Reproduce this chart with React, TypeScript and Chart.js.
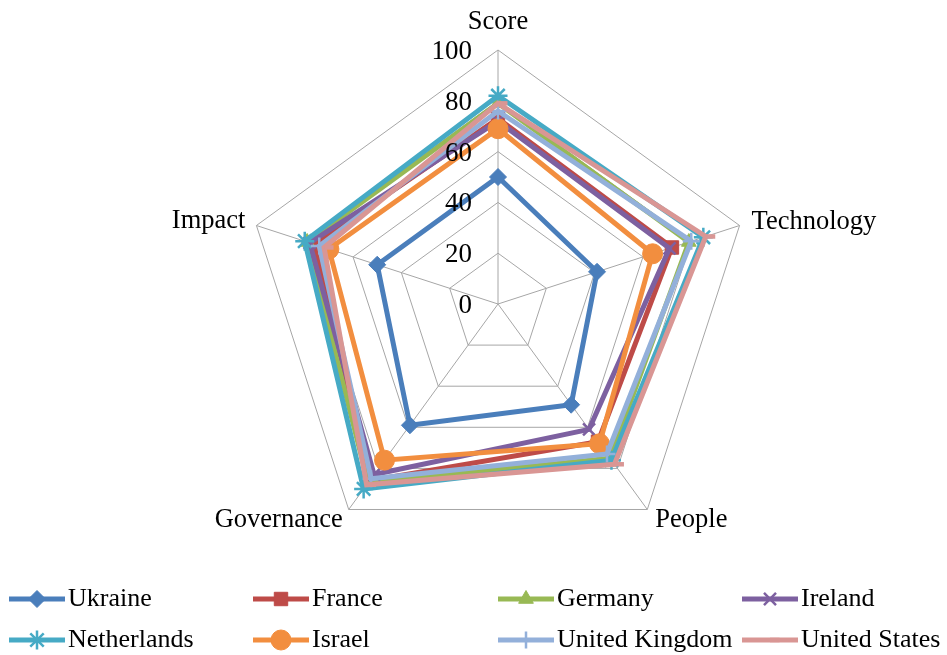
import React, { useEffect, useRef } from "react";
import { Chart, registerables } from "chart.js";
import { drawPoint } from "chart.js/helpers";

Chart.register(...registerables);

const axisLabels = ["Score", "Technology", "People", "Governance", "Impact"];
const tickValues = [0, 20, 40, 60, 80, 100];

const seriesNames = [
  "Ukraine",
  "France",
  "Germany",
  "Ireland",
  "Netherlands",
  "Israel",
  "United Kingdom",
  "United States",
];

const ukraine = [50, 41, 49, 59, 50];
const france = [73, 72, 67, 86, 76];
const germany = [79, 79, 75, 87, 79];
const ireland = [72, 71, 61, 83, 78];
const netherlands = [82, 85, 76, 90, 80];
const israel = [69, 64, 68, 76, 70];
const unitedKingdom = [76, 80, 73, 85, 74];
const unitedStates = [79, 86, 78, 88, 72];

const seriesValues = [
  ukraine,
  france,
  germany,
  ireland,
  netherlands,
  israel,
  unitedKingdom,
  unitedStates,
];

const seriesColors = [
  "#4A7EBB",
  "#BE4B48",
  "#98B954",
  "#7D60A0",
  "#46AAC5",
  "#F28E3F",
  "#93B0DA",
  "#D99694",
];

const seriesMarkers = ["rectRot", "rect", "triangle", "crossRot", "star", "circle", "cross", "dash"];
const markerRadius = [8.5, 9.5, 8.5, 8.5, 9.5, 10, 8.5, 9.5];
const markerBorder = [1, 1, 1, 2.5, 2.5, 1, 2.5, 4.5];

const FONT = '"Liberation Serif", "Times New Roman", serif';

// label offsets relative to the axis end (outer vertex)
const labelPlacement = [
  { dx: 0, dy: -28, align: "center" },
  { dx: 12, dy: -3, align: "left" },
  { dx: 8, dy: 11, align: "left" },
  { dx: -6, dy: 11, align: "right" },
  { dx: -11, dy: -4, align: "right" },
];

const overlayPlugin = {
  id: "overlay",
  afterDraw(chart: any) {
    const ctx = chart.ctx;
    const scale = chart.scales.r;
    ctx.save();
    // tick labels
    ctx.fillStyle = "#000";
    ctx.font = `27px ${FONT}`;
    ctx.textAlign = "right";
    ctx.textBaseline = "middle";
    tickValues.forEach((v) => {
      const d = scale.getDistanceFromCenterForValue(v);
      ctx.fillText(String(v), scale.xCenter - 26, scale.yCenter - d + 2);
    });
    // point labels
    ctx.font = `26.5px ${FONT}`;
    axisLabels.forEach((lab, i) => {
      const p = scale.getPointPosition(i, scale.drawingArea);
      const pl = labelPlacement[i];
      ctx.textAlign = pl.align;
      ctx.fillText(lab, p.x + pl.dx, p.y + pl.dy);
    });
    // legend
    const colX = [9, 253, 498, 742];
    const rowY = [599, 640];
    ctx.font = `26px ${FONT}`;
    ctx.textAlign = "left";
    seriesNames.forEach((name, i) => {
      const x = colX[i % 4];
      const y = rowY[Math.floor(i / 4)];
      ctx.strokeStyle = seriesColors[i];
      ctx.fillStyle = seriesColors[i];
      ctx.lineWidth = 5;
      ctx.beginPath();
      ctx.moveTo(x, y);
      ctx.lineTo(x + 56, y);
      ctx.stroke();
      ctx.lineWidth = markerBorder[i];
      drawPoint(ctx, { pointStyle: seriesMarkers[i], radius: markerRadius[i], rotation: 0, borderWidth: markerBorder[i] }, x + 28, y);
      ctx.fillStyle = "#000";
      ctx.fillText(name, x + 59, y);
    });
    ctx.restore();
  },
};

export default function App() {
  const ref = useRef<HTMLCanvasElement>(null);
  useEffect(() => {
    if (!ref.current) return;
    const chart = new Chart(ref.current, {
      type: "radar",
      data: {
        labels: axisLabels,
        datasets: seriesNames.map((name, i) => ({
          label: name,
          data: seriesValues[i],
          borderColor: seriesColors[i],
          backgroundColor: seriesColors[i],
          borderWidth: 5,
          fill: false,
          tension: 0,
          pointStyle: seriesMarkers[i] as any,
          pointRadius: markerRadius[i],
          pointBackgroundColor: seriesColors[i],
          pointBorderColor: seriesColors[i],
          pointBorderWidth: markerBorder[i],
          order: seriesNames.length - i,
        })),
      },
      options: {
        responsive: false,
        animation: false,
        events: [],
        layout: { padding: { left: 244, right: 195, top: 50, bottom: 97 } },
        plugins: { legend: { display: false }, tooltip: { enabled: false } },
        scales: {
          r: {
            min: 0,
            max: 100,
            ticks: { display: false, stepSize: 20 },
            grid: { color: "#A6A6A6", lineWidth: 1 },
            angleLines: { color: "#A6A6A6", lineWidth: 1 },
            pointLabels: { display: false },
          },
        },
      },
      plugins: [overlayPlugin],
    });
    return () => chart.destroy();
  }, []);
  return (
    <div style={{ position: "absolute", left: 0, top: 0, width: 947, height: 655, background: "#fff" }}>
      <canvas ref={ref} width={947} height={655} style={{ display: "block" }} />
    </div>
  );
}
